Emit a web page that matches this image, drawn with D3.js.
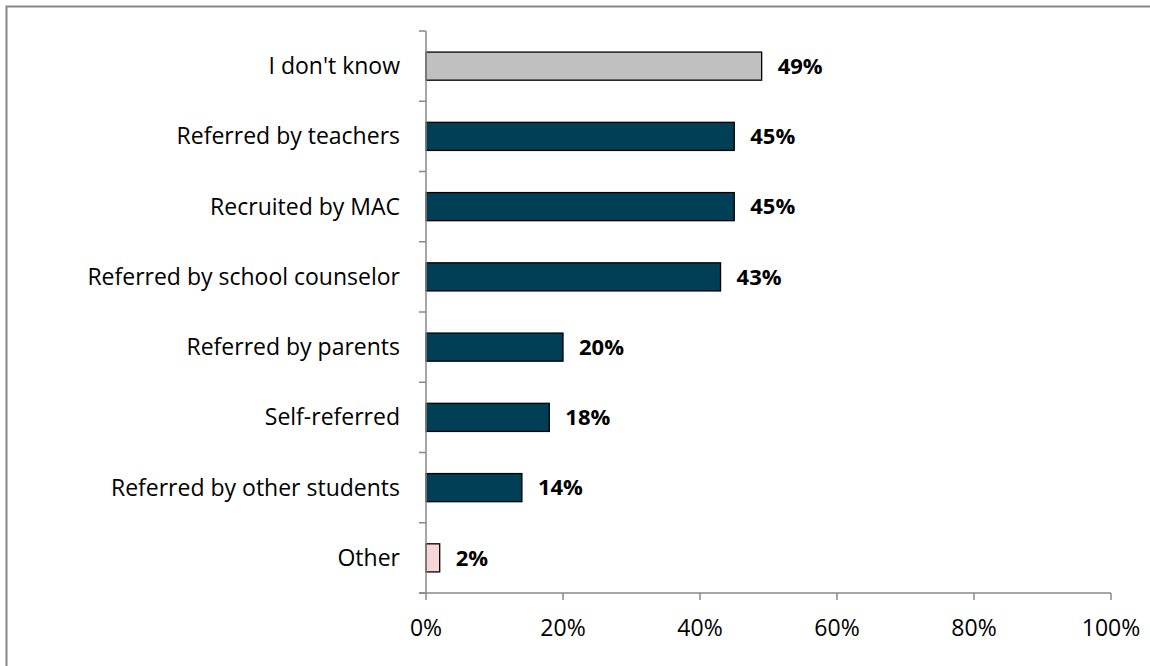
<!DOCTYPE html>
<html><head><meta charset="utf-8">
<script src="https://cdn.jsdelivr.net/npm/d3@7"></script>
<style>body{margin:0;background:#fff}svg{display:block}text{font-family:"Open Sans",sans-serif}</style>
</head><body>
<script>
const categories = ["I don't know","Referred by teachers","Recruited by MAC","Referred by school counselor","Referred by parents","Self-referred","Referred by other students","Other"];
const values = [0.49,0.45,0.45,0.43,0.20,0.18,0.14,0.02];
const labels = ["49%","45%","45%","43%","20%","18%","14%","2%"];
const barColors = ["#c0c0c0","#003f56","#003f56","#003f56","#003f56","#003f56","#003f56","#f7d7d5"];
const xTicks = [0,0.2,0.4,0.6,0.8,1.0];

const W=1150,H=666;
const svg=d3.select("body").append("svg").attr("width",W).attr("height",H);
svg.append("path").attr("d",`M6.5,${H} V6.5 H${W}`).attr("fill","none").attr("stroke","#888").attr("stroke-width",2);

const x=d3.scaleLinear().domain([0,1]).range([426,1111]);
const y=d3.scaleBand().domain(categories).range([31,593]).paddingInner(0.6).paddingOuter(0.3);
const yb=d3.scaleBand().domain(categories).range([31,593]);

svg.selectAll("rect.bar").data(categories).join("rect")
  .attr("x",x(0)).attr("y",d=>y(d)).attr("width",(d,i)=>x(values[i])-x(0)).attr("height",y.bandwidth())
  .attr("fill",(d,i)=>barColors[i]).attr("stroke","#000").attr("stroke-width",1.3);

const ax=svg.append("g").attr("stroke","#888").attr("stroke-width",1.5).attr("fill","none");
ax.append("path").attr("d",`M${x(0)},31 V593`);
const bounds=categories.map(c=>yb(c)).concat([593]);
bounds.forEach(b=>ax.append("path").attr("d",`M${x(0)-7},${b} H${x(0)}`));
ax.append("path").attr("d",`M${x(0)-7},593 H${x(1)}`);
xTicks.forEach(t=>ax.append("path").attr("d",`M${x(t)},593 V600`));

svg.selectAll("text.cat").data(categories).join("text")
  .attr("x",400).attr("y",d=>yb(d)+yb.bandwidth()/2).attr("dy","0.35em")
  .attr("text-anchor","end").attr("font-size",23).attr("fill","#000").text(d=>d);

svg.selectAll("text.val").data(categories).join("text")
  .attr("x",(d,i)=>x(values[i])+16).attr("y",d=>yb(d)+yb.bandwidth()/2).attr("dy","0.35em")
  .attr("font-size",22).attr("font-weight","bold").attr("fill","#000").text((d,i)=>labels[i]);

svg.selectAll("text.tick").data(xTicks).join("text")
  .attr("x",d=>x(d)).attr("y",628).attr("dy","0.35em").attr("text-anchor","middle")
  .attr("font-size",23).attr("fill","#000").text(d=>d3.format(".0%")(d));
</script>
</body></html>
